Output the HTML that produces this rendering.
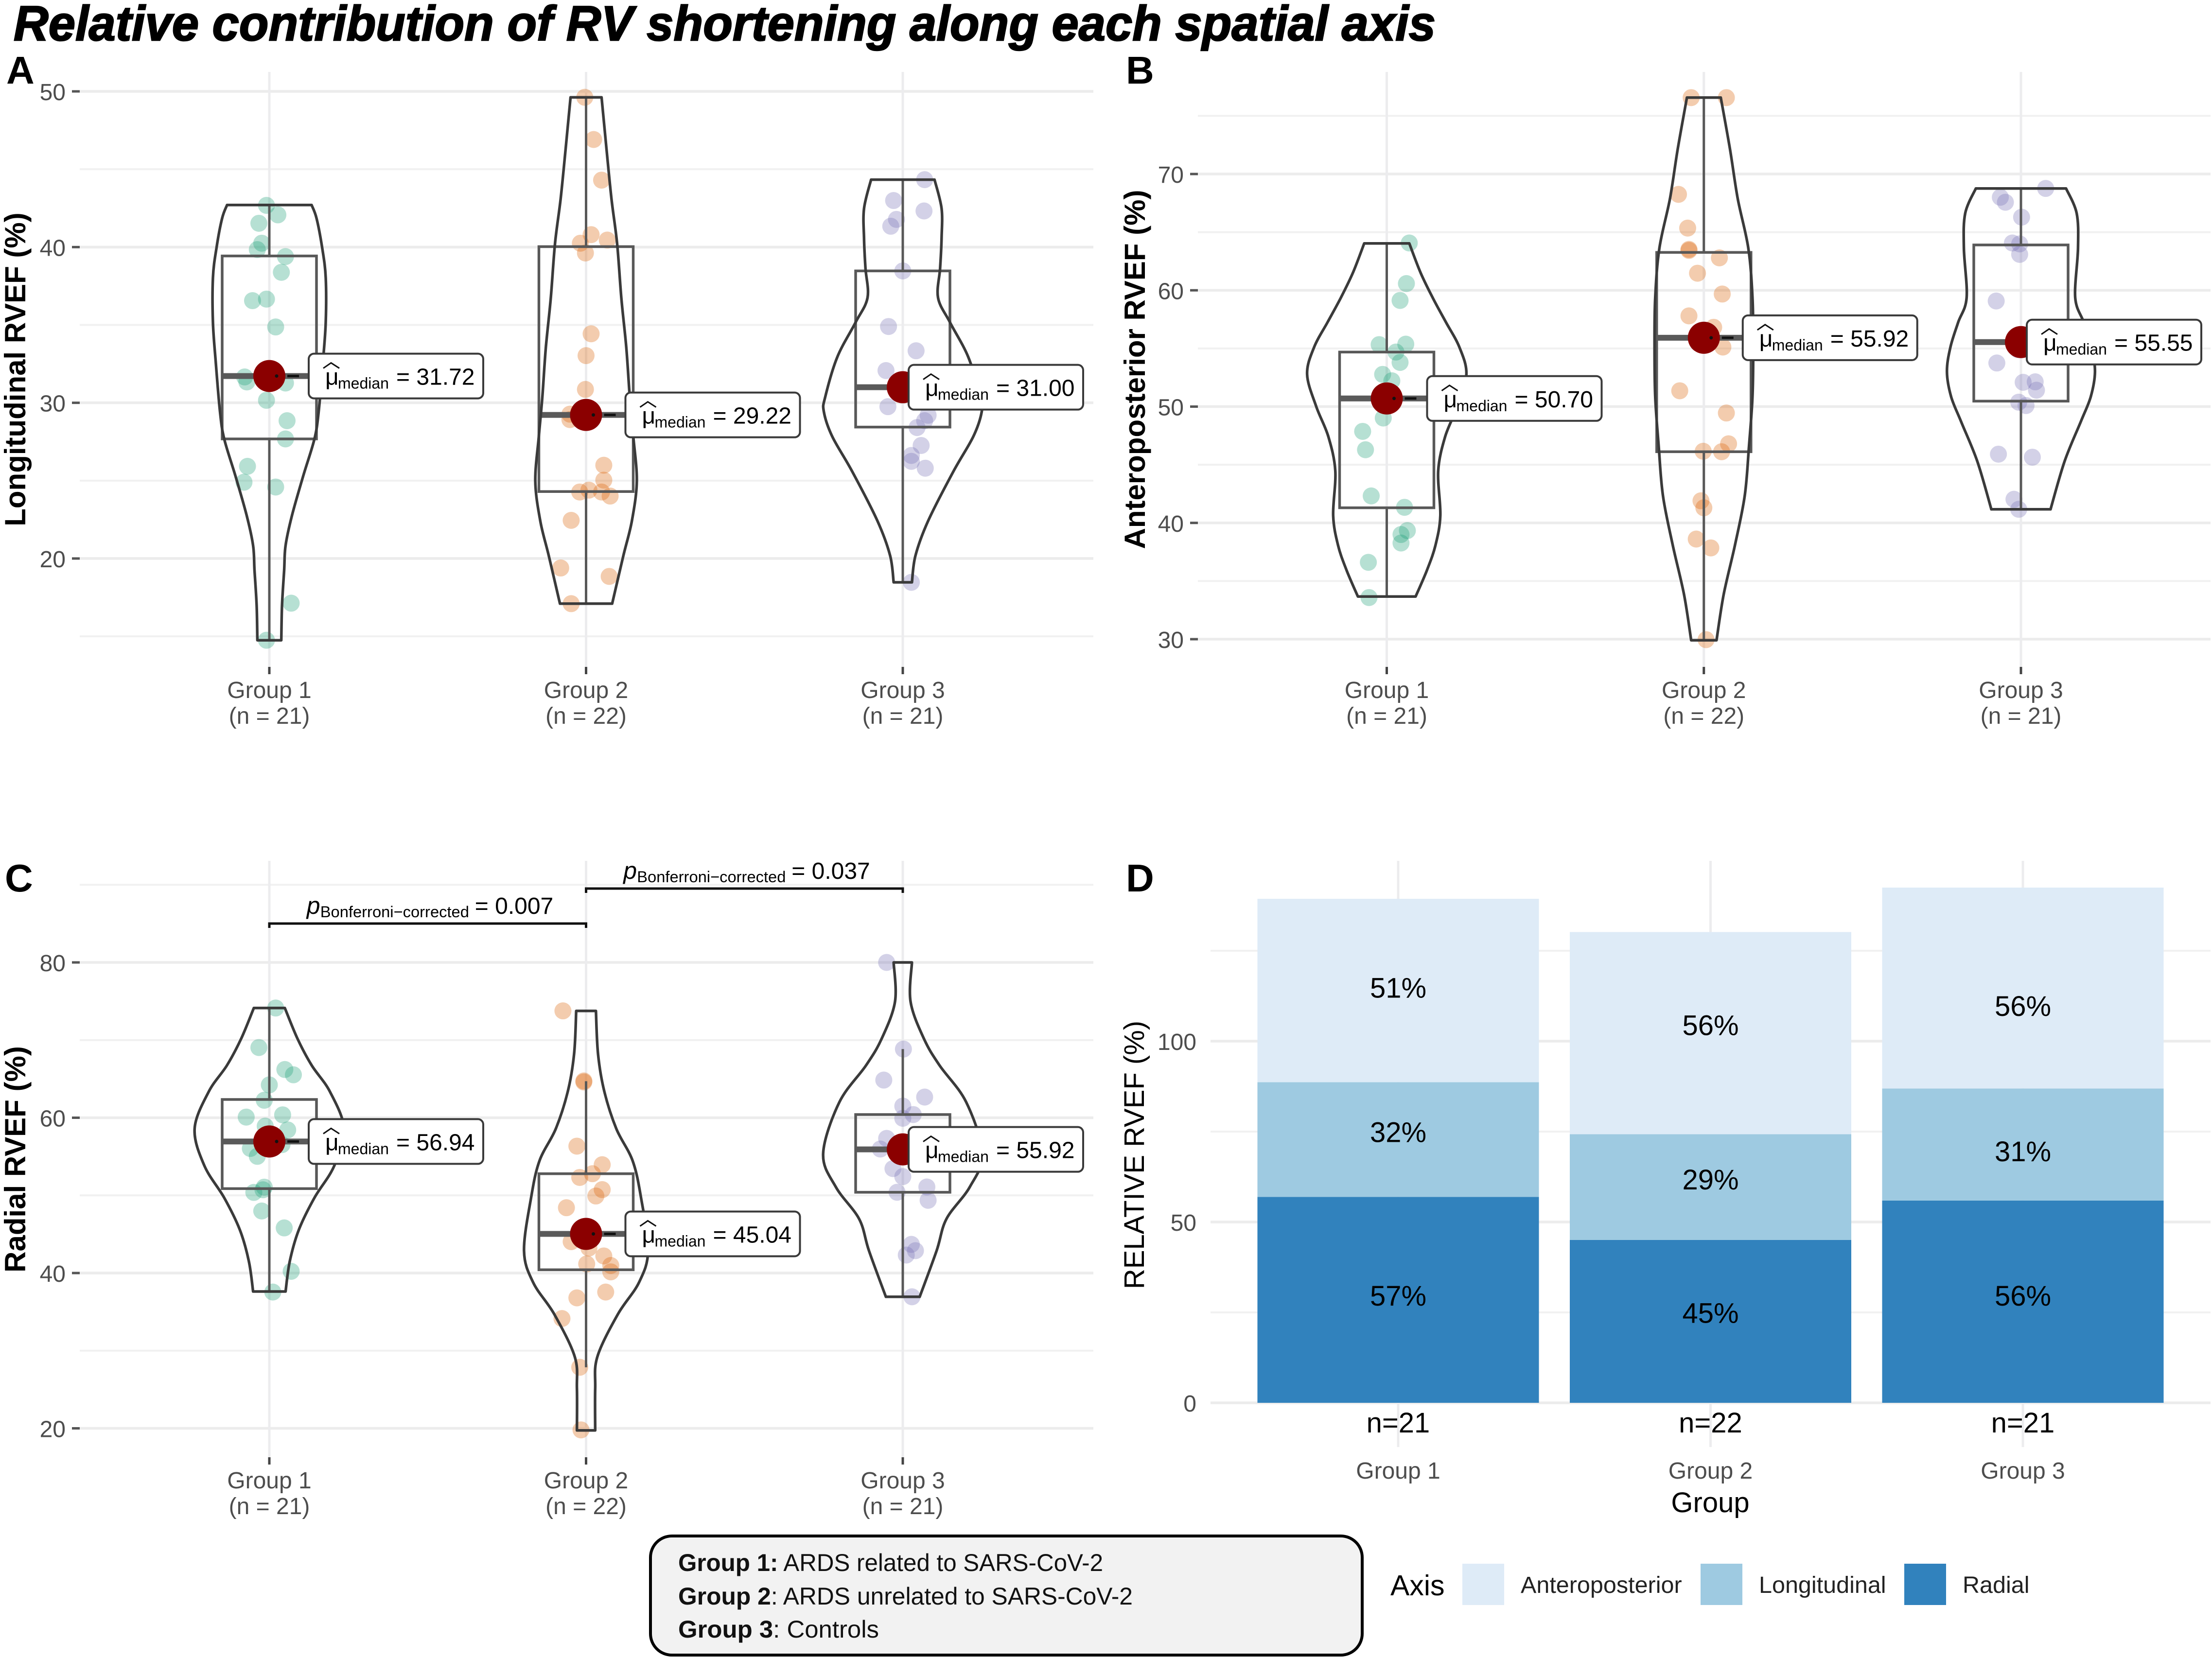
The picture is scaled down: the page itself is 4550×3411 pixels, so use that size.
<!DOCTYPE html>
<html lang="en">
<head>
<meta charset="utf-8">
<title>Relative contribution of RV shortening along each spatial axis</title>
<style>
html,body{margin:0;padding:0;background:#fff;width:4550px;height:3411px;overflow:hidden}
svg{display:block;font-family:"Liberation Sans",Arial,sans-serif}
</style>
</head>
<body>
<svg id="chart" xmlns="http://www.w3.org/2000/svg" width="4550" height="3411" viewBox="0 0 4550 3411">
  <rect x="0" y="0" width="4550" height="3411" fill="#ffffff"/>
  <text x="28" y="83" font-size="101" font-weight="700" font-style="italic" fill="#000" stroke="#000" stroke-width="2.5" textLength="2925" lengthAdjust="spacingAndGlyphs">Relative contribution of RV shortening along each spatial axis</text>
  <text x="13" y="172" font-size="80" font-weight="700" fill="#000">A</text>
  <text x="2316" y="172" font-size="80" font-weight="700" fill="#000">B</text>
  <text x="10" y="1834" font-size="80" font-weight="700" fill="#000">C</text>
  <text x="2316" y="1834" font-size="80" font-weight="700" fill="#000">D</text>
  <g id="panels"></g>
  <g>
    <rect x="1338" y="3160" width="1464" height="245" rx="44" ry="44" fill="#f2f2f2" stroke="#000" stroke-width="6"/>
    <text x="1395" y="3232" font-size="50" fill="#111" textLength="874" lengthAdjust="spacingAndGlyphs"><tspan font-weight="700">Group 1:</tspan> ARDS related to SARS-CoV-2</text>
    <text x="1395" y="3301" font-size="50" fill="#111" textLength="935" lengthAdjust="spacingAndGlyphs"><tspan font-weight="700">Group 2</tspan>: ARDS unrelated to SARS-CoV-2</text>
    <text x="1395" y="3369" font-size="50" fill="#111" textLength="413" lengthAdjust="spacingAndGlyphs"><tspan font-weight="700">Group 3</tspan>: Controls</text>
  </g>
</svg>
<script>
const groupLabels = ["Group 1", "Group 2", "Group 3"];
const groupCounts = [21, 22, 21];
const groupColors = ["#1b9e77", "#d95f02", "#7570b3"];

/* ---------- Panel A: Longitudinal ---------- */
const aTicks = [20, 30, 40, 50];
const aMinorTicks = [15, 25, 35, 45];
const aG1Values = [42.68,42.07,41.53,40.25,39.84,39.39,38.38,36.56,36.66,34.87,31.66,31.34,31.27,30.16,28.85,27.68,25.92,24.9,24.59,17.13,14.75];
const aG1Jitter = [-.009,.027,-.033,-.024,-.038,.051,.038,-.053,-.009,.02,-.078,-.071,.051,-.009,.056,.051,-.069,-.08,.02,.069,-.009];
const aG2Values = [49.62,46.91,44.3,40.8,40.25,40.45,39.62,34.43,33.03,30.86,29.27,28.92,25.99,25.03,24.39,24.27,24.27,24.01,22.45,19.39,18.85,17.1];
const aG2Jitter = [-.004,.024,.049,.016,-.018,.067,-.002,.016,0,-.002,-.051,-.051,.056,.056,.009,-.02,.049,.076,-.047,-.08,.073,-.047];
const aG3Values = [44.33,42.99,42.32,41.78,41.34,38.47,34.9,33.34,32.07,31.34,29.75,28.85,28.41,27.26,26.62,26.24,25.8,18.47,31.0,30.5,29.2];
const aG3Jitter = [.069,-.029,.067,-.02,-.038,0,-.045,.042,-.053,-.004,-.047,.069,.045,.058,.027,.027,.071,.027,.02,.06,.08];
const aG1ViolinValues = [42.7,41.85,39.94,38.03,35.16,32.61,29.43,27.68,25.29,22.74,20.83,19.24,16.99,14.75];
const aG1ViolinDensity = [.60,.67,.75,.80,.80,.76,.70,.64,.48,.32,.23,.21,.18,.17];
const aG2ViolinValues = [49.62,46.31,43.12,40.25,36.75,33.57,30.38,27.83,24.97,22.42,20.19,17.1];
const aG2ViolinDensity = [.22,.29,.36,.44,.50,.57,.62,.67,.72,.65,.53,.37];
const aG3ViolinValues = [44.33,42.48,40.57,38.66,36.75,35.16,32.93,30.38,29.43,27.83,25.61,22.42,20.19,18.47];
const aG3ViolinDensity = [.45,.55,.55,.53,.50,.67,.93,1.10,1.12,1.00,.72,.36,.18,.13];
const aQ1 = [27.68, 24.3, 28.44];
const aMedian = [31.72, 29.22, 31.00];
const aQ3 = [39.43, 40.03, 38.47];
const aWhiskerLow = [14.75, 17.1, 18.47];
const aWhiskerHigh = [42.7, 49.62, 44.33];

/* ---------- Panel B: Anteroposterior ---------- */
const bTicks = [30, 40, 50, 60, 70];
const bMinorTicks = [35, 45, 55, 65, 75];
const bG1Values = [64.07,60.58,59.13,55.33,55.37,54.69,53.8,52.77,52.22,51.28,50.43,49.02,47.87,46.29,42.32,41.34,39.34,39.0,38.27,36.61,33.58];
const bG1Jitter = [.071,.062,.042,-.024,.06,.029,.042,-.013,.016,.004,.016,-.011,-.076,-.067,-.049,.056,.065,.045,.045,-.058,-.056];
const bG2Values = [76.57,76.57,68.25,65.35,63.52,63.43,62.79,61.47,59.68,57.8,56.82,55.12,51.36,49.45,46.8,46.16,46.12,41.9,41.3,38.61,37.85,29.96];
const bG2Jitter = [-.04,.071,-.08,-.051,-.047,-.047,.049,-.02,.058,-.047,.031,.06,-.076,.071,.078,-.002,.056,-.009,0,-.024,.022,.007];
const bG3Values = [68.76,68.0,67.57,66.29,64.07,63.99,63.09,59.08,55.54,53.75,52.09,52.13,51.41,50.38,50.09,45.91,45.65,42.03,41.17,55.8,54.9];
const bG3Jitter = [.078,-.065,-.049,.002,-.027,-.004,-.004,-.078,.007,-.076,.007,.045,.049,-.007,.016,-.071,.036,-.022,-.007,.03,-.01];
const bG1ViolinValues = [64.03,61.51,59.38,57.25,55.12,52.77,50.0,47.44,44.46,40.62,38.06,35.93,33.67];
const bG1ViolinDensity = [.32,.48,.65,.84,1.03,1.13,1.00,.83,.73,.76,.69,.57,.41];
const bG2ViolinValues = [76.57,72.17,67.91,63.65,59.38,55.12,50.85,46.59,42.32,38.06,33.8,29.91];
const bG2ViolinDensity = [.24,.37,.48,.63,.69,.70,.69,.64,.58,.44,.28,.18];
const bG3ViolinValues = [68.76,66.63,63.65,59.38,57.25,55.12,52.99,50.85,48.72,45.31,41.17];
const bG3ViolinDensity = [.64,.79,.81,.77,.89,1.00,1.05,.99,.85,.62,.42];
const bQ1 = [41.3, 46.12, 50.47];
const bMedian = [50.70, 55.92, 55.55];
const bQ3 = [54.69, 63.26, 63.9];
const bWhiskerLow = [33.58, 29.96, 41.17];
const bWhiskerHigh = [64.03, 76.57, 68.76];

/* ---------- Panel C: Radial ---------- */
const cTicks = [20, 40, 60, 80];
const cMinorTicks = [30, 50, 70, 90];
const cG1Values = [74.13,69.04,66.21,65.53,64.23,62.25,60.08,60.37,58.92,58.43,57.23,56.04,55.03,56.54,51.06,50.72,50.38,47.99,45.81,40.22,37.55];
const cG1Jitter = [.02,-.033,.049,.076,0,-.016,-.073,.042,-.013,.058,0,-.06,-.038,.04,-.016,-.02,-.049,-.024,.047,.069,.011];
const cG2Values = [73.76,64.74,64.6,56.34,53.95,52.79,52.31,50.74,49.92,48.41,44.93,44.04,43.22,42.2,41.17,40.97,40.15,37.55,36.8,34.14,27.86,19.8];
const cG2Jitter = [-.073,-.007,-.007,-.029,.051,.02,-.02,.051,.031,-.062,.02,-.047,.009,.056,.002,.078,.078,.062,-.029,-.076,-.02,-.016];
const cG3Values = [80.0,68.84,64.85,62.66,61.5,59.93,60.41,57.34,55.97,53.45,52.42,56.52,50.4,51.08,49.37,43.69,42.88,42.32,36.94,55.92,54.6];
const cG3Jitter = [-.051,.002,-.06,.069,0,0,.033,-.051,-.071,-.031,0,-.011,-.018,.076,.08,.027,.04,.011,.029,.05,.045];
const cG1ViolinValues = [74.13,70.17,66.76,63.35,58.57,53.79,49.69,45.6,41.5,37.62];
const cG1ViolinDensity = [.22,.40,.60,.86,1.06,.92,.64,.42,.29,.23];
const cG2ViolinValues = [73.76,68.16,63.35,58.57,54.47,49.69,42.87,38.77,34.68,29.21,25.12,19.73];
const cG2ViolinDensity = [.14,.17,.26,.43,.66,.78,.88,.75,.45,.16,.13,.13];
const cG3ViolinValues = [80.0,74.95,70.17,66.76,62.0,55.38,51.08,46.98,42.88,36.94];
const cG3ViolinDensity = [.13,.11,.30,.52,.90,1.13,.95,.62,.48,.24];
const cQ1 = [50.87, 40.42, 50.4];
const cMedian = [56.94, 45.04, 55.92];
const cQ3 = [62.35, 52.79, 60.41];
const cWhiskerLow = [37.6, 27.86, 36.94];
const cWhiskerHigh = [74.13, 64.7, 68.84];

/* ---------- Panel D: stacked bars ---------- */
const dTicks = [0, 50, 100];
const dMinorTicks = [25, 75, 125];
const dRadial = [56.94, 45.04, 55.92];
const dLongitudinal = [31.72, 29.22, 31.00];
const dAnteroposterior = [50.70, 55.92, 55.55];
const dRadialLabelAt = [29.6, 24.8, 29.6];
const dLongitudinalLabelAt = [74.8, 61.7, 69.5];
const dAnteroposteriorLabelAt = [114.7, 104.4, 109.7];
const axisNames = ["Anteroposterior", "Longitudinal", "Radial"];
const axisColors = ["#deebf7", "#9ecae1", "#3182bd"];

const NS = "http://www.w3.org/2000/svg";
const root = document.getElementById("panels");

function make(tag, attrs, parent) {
  const n = document.createElementNS(NS, tag);
  for (const k in attrs) n.setAttribute(k, attrs[k]);
  (parent || root).appendChild(n);
  return n;
}
function line(x1, y1, x2, y2, stroke, w, parent) {
  return make("line", {x1: x1, y1: y1, x2: x2, y2: y2, stroke: stroke, "stroke-width": w}, parent);
}
function txt(x, y, s, size, anchor, fill, parent, weight) {
  const t = make("text", {x: x, y: y, "font-size": size, "text-anchor": anchor, fill: fill, "font-weight": weight || 400}, parent);
  t.textContent = s;
  return t;
}
function linearAxis(v0, px0, v1, px1) {
  const k = (px1 - px0) / (v1 - v0);
  return function (v) { return px0 + (v - v0) * k; };
}
function smoothPath(pts) {
  let d = "";
  for (let i = 0; i < pts.length - 1; i++) {
    const p0 = pts[Math.max(i - 1, 0)], p1 = pts[i], p2 = pts[i + 1], p3 = pts[Math.min(i + 2, pts.length - 1)];
    const c1x = p1[0] + (p2[0] - p0[0]) / 6, c1y = p1[1] + (p2[1] - p0[1]) / 6;
    const c2x = p2[0] - (p3[0] - p1[0]) / 6, c2y = p2[1] - (p3[1] - p1[1]) / 6;
    d += " C" + c1x.toFixed(1) + " " + c1y.toFixed(1) + " " + c2x.toFixed(1) + " " + c2y.toFixed(1) + " " + p2[0].toFixed(1) + " " + p2[1].toFixed(1);
  }
  return d;
}

function drawViolinPanel(p) {
  const g = make("g", {});
  
  

  const y = linearAxis(p.v0, p.px0, p.v1, p.px1);
  const x = linearAxis(0, p.x0, 1, p.x0 + p.step);

  p.minorTicks.forEach(function (t) {
    const gl = line(p.gridLeft, y(t), p.gridRight, y(t), "#f1f1f1", 4, g);
    
    
  });
  p.ticks.forEach(function (t) {
    const gl = line(p.gridLeft, y(t), p.gridRight, y(t), "#ececec", 5.5, g);
    
    
    const tm = line(p.gridLeft - 16, y(t), p.gridLeft, y(t), "#555555", 5, g);
    
    
    const tl = txt(p.gridLeft - 29, y(t) + 18, String(t), 48, "end", "#4d4d4d", g);
    
    
  });
  groupLabels.forEach(function (label, i) {
    const cx = x(i);
    const gl = line(cx, p.gridTop, cx, p.gridBottom, "#ececee", 5, g);
    
    
    const tm = line(cx, p.gridBottom, cx, p.gridBottom + 15, "#444444", 5, g);
    
    
    const l1 = txt(cx, p.gridBottom + 64, label, 48, "middle", "#4d4d4d", g);
    
    
    const l2 = txt(cx, p.gridBottom + 117, "(n = " + groupCounts[i] + ")", 48, "middle", "#4d4d4d", g);
    
    
  });

  const yt = txt(0, 0, p.yTitle, 60, "middle", "#000", g, 700);
  yt.setAttribute("transform", "translate(" + p.titleX + "," + p.titleY + ") rotate(-90)");
  
  

  groupLabels.forEach(function (label, i) {
    p.values[i].forEach(function (v, j) {
      const c = make("circle", {cx: x(i + p.jitter[i][j]), cy: y(v), r: 17.5, fill: groupColors[i], "fill-opacity": 0.32}, g);
      
      
    });
  });

  groupLabels.forEach(function (label, i) {
    const cx = x(i), hw = 97;
    const wh = line(cx, y(p.q3[i]), cx, y(p.high[i]), "#585858", 5, g);
    
    
    const wl = line(cx, y(p.q1[i]), cx, y(p.low[i]), "#585858", 5, g);
    
    
    const box = make("rect", {x: cx - hw, y: y(p.q3[i]), width: 2 * hw, height: y(p.q1[i]) - y(p.q3[i]), fill: "none", stroke: "#585858", "stroke-width": 5.5}, g);
    
    
    const ml = line(cx - hw, y(p.median[i]), cx + hw, y(p.median[i]), "#5a5a5a", 12, g);
    
    

    const right = p.violinValues[i].map(function (v, j) { return [cx + p.violinDensity[i][j] * 145, y(v)]; });
    const left = p.violinValues[i].map(function (v, j) { return [cx - p.violinDensity[i][j] * 145, y(v)]; }).reverse();
    const d = "M" + right[0][0].toFixed(1) + " " + right[0][1].toFixed(1) + smoothPath(right) +
      " L" + left[0][0].toFixed(1) + " " + left[0][1].toFixed(1) + smoothPath(left) + " Z";
    const vio = make("path", {d: d, fill: "none", stroke: "#3a3a3a", "stroke-width": 5.5, "stroke-linejoin": "round"}, g);
    
    

    const my = y(p.median[i]);
    const seg = line(cx + 37, my, cx + 61, my, "#111111", 5, g);
    
    
    const dot = make("circle", {cx: cx, cy: my, r: 33, fill: "#8b0000"}, g);
    
    
    const tiny = make("circle", {cx: cx + 15, cy: my, r: 3.5, fill: "#111111"}, g);
    
    

    const lx = cx + p.labelOffset[i];
    const lab = make("g", {}, g);
    
    
    make("rect", {x: lx, y: my - 46, width: 359, height: 92, rx: 11, ry: 11, fill: "#ffffff", stroke: "#3a3a3a", "stroke-width": 4}, lab);
    make("polyline", {points: (lx + 30) + "," + (my - 16) + " " + (lx + 46) + "," + (my - 27) + " " + (lx + 63) + "," + (my - 16), fill: "none", stroke: "#111111", "stroke-width": 3}, lab);
    txt(lx + 34, my + 18, "μ", 48, "start", "#000", lab);
    txt(lx + 60, my + 26, "median", 32, "start", "#000", lab);
    txt(lx + 180, my + 18, "= " + p.median[i].toFixed(2), 48, "start", "#000", lab);
  });
  return {g: g, x: x, y: y};
}

drawViolinPanel({
  name: "panel-a-longitudinal", yTitle: "Longitudinal RVEF (%)", titleX: 52, titleY: 760,
  v0: 20, px0: 1149, v1: 50, px1: 188, x0: 554, step: 651.5,
  gridLeft: 164, gridRight: 2249, gridTop: 148, gridBottom: 1372,
  ticks: aTicks, minorTicks: aMinorTicks,
  values: [aG1Values, aG2Values, aG3Values], jitter: [aG1Jitter, aG2Jitter, aG3Jitter],
  violinValues: [aG1ViolinValues, aG2ViolinValues, aG3ViolinValues],
  violinDensity: [aG1ViolinDensity, aG2ViolinDensity, aG3ViolinDensity],
  q1: aQ1, median: aMedian, q3: aQ3, low: aWhiskerLow, high: aWhiskerHigh,
  labelOffset: [81, 81, 12]
});

drawViolinPanel({
  name: "panel-b-anteroposterior", yTitle: "Anteroposterior RVEF (%)", titleX: 2355, titleY: 760,
  v0: 30, px0: 1315, v1: 70, px1: 358, x0: 2852.5, step: 652.25,
  gridLeft: 2464, gridRight: 4547, gridTop: 148, gridBottom: 1372,
  ticks: bTicks, minorTicks: bMinorTicks,
  values: [bG1Values, bG2Values, bG3Values], jitter: [bG1Jitter, bG2Jitter, bG3Jitter],
  violinValues: [bG1ViolinValues, bG2ViolinValues, bG3ViolinValues],
  violinDensity: [bG1ViolinDensity, bG2ViolinDensity, bG3ViolinDensity],
  q1: bQ1, median: bMedian, q3: bQ3, low: bWhiskerLow, high: bWhiskerHigh,
  labelOffset: [83, 80, 12]
});

const panelC = drawViolinPanel({
  name: "panel-c-radial", yTitle: "Radial RVEF (%)", titleX: 52, titleY: 2385,
  v0: 20, px0: 2938.5, v1: 80, px1: 1980, x0: 554, step: 651.5,
  gridLeft: 164, gridRight: 2249, gridTop: 1771, gridBottom: 2998,
  ticks: cTicks, minorTicks: cMinorTicks,
  values: [cG1Values, cG2Values, cG3Values], jitter: [cG1Jitter, cG2Jitter, cG3Jitter],
  violinValues: [cG1ViolinValues, cG2ViolinValues, cG3ViolinValues],
  violinDensity: [cG1ViolinDensity, cG2ViolinDensity, cG3ViolinDensity],
  q1: cQ1, median: cMedian, q3: cQ3, low: cWhiskerLow, high: cWhiskerHigh,
  labelOffset: [81, 81, 12]
});

function drawBracket(i, j, by, value) {
  const g = make("g", {}, panelC.g);
  
  
  const x1 = panelC.x(i), x2 = panelC.x(j);
  make("path", {d: "M" + x1 + " " + (by + 9) + " V" + by + " H" + x2 + " V" + (by + 9), fill: "none", stroke: "#111111", "stroke-width": 5}, g);
  const mid = (x1 + x2) / 2;
  const left = mid - 249;
  const p = txt(left, by - 20, "p", 50, "start", "#000", g);
  p.setAttribute("font-style", "italic");
  txt(left + 28, by - 13, "Bonferroni−corrected", 32.7, "start", "#000", g);
  txt(left + 346, by - 20, "= " + value, 48, "start", "#000", g);
}
drawBracket(0, 1, 1900, "0.007");
drawBracket(1, 2, 1828, "0.037");

/* Panel D */
(function () {
  const g = make("g", {});
  
  
  const y = linearAxis(0, 2886, 100, 2142);
  const x = linearAxis(0, 2876, 1, 3518.5);
  const barW = 579, L = 2490, R = 4547;

  dMinorTicks.forEach(function (t) {
    const gl = line(L, y(t), R, y(t), "#f1f1f1", 4, g);
    
    
  });
  dTicks.forEach(function (t) {
    const gl = line(L, y(t), R, y(t), "#ececec", 5.5, g);
    
    
    const tl = txt(L - 29, y(t) + 18, String(t), 48, "end", "#4d4d4d", g);
    
    
  });
  groupLabels.forEach(function (label, i) {
    const gl = line(x(i), 1771, x(i), 2977, "#ececee", 5, g);
    
    
    const tl = txt(x(i), 3042, label, 48, "middle", "#4d4d4d", g);
    
    
  });

  groupLabels.forEach(function (label, i) {
    const segments = [dRadial[i], dLongitudinal[i], dAnteroposterior[i]];
    const anchors = [dRadialLabelAt[i], dLongitudinalLabelAt[i], dAnteroposteriorLabelAt[i]];
    const fills = [axisColors[2], axisColors[1], axisColors[0]];
    let base = 0;
    segments.forEach(function (v, s) {
      const bar = make("rect", {x: x(i) - barW / 2, y: y(base + v), width: barW, height: y(base) - y(base + v), fill: fills[s]}, g);
      
      
      base += v;
    });
    segments.forEach(function (v, s) {
      const val = txt(x(i), y(anchors[s]) + 20, Math.round(v) + "%", 58, "middle", "#000", g);
      
      
    });
    const nl = txt(x(i), 2947, "n=" + groupCounts[i], 58, "middle", "#000", g);
    
    
  });

  const xt = txt(3518, 3111, "Group", 58, "middle", "#000", g);
  
  
  const yt = txt(0, 0, "RELATIVE RVEF (%)", 58, "middle", "#000", g);
  yt.setAttribute("transform", "translate(2353,2376) rotate(-90)");
  
  

  /* legend */
  const lg = make("g", {}, g);
  
  
  const lt = txt(2860, 3282, "Axis", 59, "start", "#000", lg);
  
  
  const swatchX = linearAxis(0, 3008, 1, 3498);
  axisNames.forEach(function (name, i) {
    const sx = i === 2 ? 3917 : swatchX(i);
    const sw = make("rect", {x: sx, y: 3217, width: 86, height: 85, fill: axisColors[i]}, lg);
    
    
    const tx = txt(sx + 120, 3277, name, 48.5, "start", "#222222", lg);
    
    
  });
})();
</script>
</body>
</html>
